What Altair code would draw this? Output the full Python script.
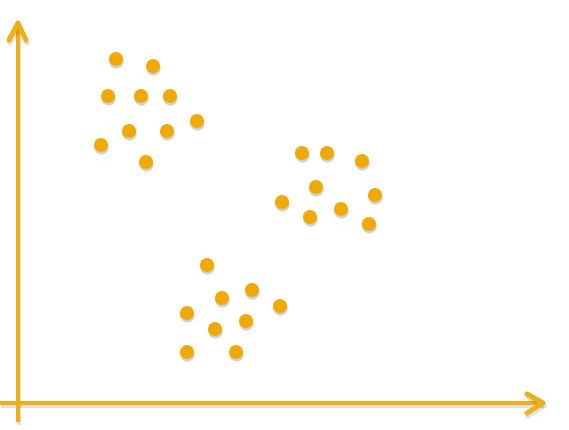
import altair as alt
import pandas as pd

# Point positions (x rightwards from vertical axis, y upwards from horizontal axis)
xs = [98, 135, 90, 123, 152, 179, 111, 149, 83, 128,
      284, 309, 344, 298, 357, 264, 323, 292, 351,
      189, 234, 204, 262, 169, 228, 197, 169, 218]
ys = [344, 337, 307, 307, 307, 282, 272, 272, 258, 241,
      250, 250, 242, 216, 208, 201, 194, 186, 179,
      138, 113, 105, 97, 90, 82, 74, 51, 51]

# Axis lines
axis_id = ["v", "v", "h", "h"]
axis_x = [0, 0, -18, 525]
axis_y = [-19, 380, 0, 0]

# Arrow heads (open chevrons)
head_id = ["up", "up", "up", "right", "right", "right"]
head_x = [-9, 0, 8, 509, 525, 509]
head_y = [363, 380, 363, 9, 0, -10]
head_o = [0, 1, 2, 0, 1, 2]

pts = pd.DataFrame({"x": xs, "y": ys})
axes = pd.DataFrame({"id": axis_id, "x": axis_x, "y": axis_y})
heads = pd.DataFrame({"id": head_id, "x": head_x, "y": head_y, "o": head_o})

xsc = alt.Scale(domain=[-18, 551])
ysc = alt.Scale(domain=[-27, 403])
X = alt.X("x:Q", scale=xsc, axis=None)
Y = alt.Y("y:Q", scale=ysc, axis=None)

line_col = "#EEAF18"
dot_col = "#F0A900"

axis_shadow = alt.Chart(axes).mark_line(
    color="#000000", opacity=0.12, strokeWidth=4, yOffset=3, xOffset=1
).encode(x=X, y=Y, detail="id:N")
axis_lines = alt.Chart(axes).mark_line(
    color=line_col, strokeWidth=4
).encode(x=X, y=Y, detail="id:N")
head_shadow = alt.Chart(heads).mark_line(
    color="#000000", opacity=0.12, strokeWidth=5, strokeCap="round",
    strokeJoin="round", yOffset=3, xOffset=1
).encode(x=X, y=Y, detail="id:N", order="o:Q")
head_lines = alt.Chart(heads).mark_line(
    color=line_col, strokeWidth=5, strokeCap="round", strokeJoin="round"
).encode(x=X, y=Y, detail="id:N", order="o:Q")

dot_shadow = alt.Chart(pts).mark_circle(
    color="#000000", opacity=0.18, size=210, yOffset=2.5, xOffset=0.5
).encode(x=X, y=Y)
dots = alt.Chart(pts).mark_circle(
    color=dot_col, opacity=1, size=200
).encode(x=X, y=Y)

chart = alt.layer(
    axis_shadow, axis_lines, head_shadow, head_lines, dot_shadow, dots
).properties(
    width=569, height=430,
    autosize=alt.AutoSizeParams(type="none"),
    padding=0,
).configure_view(stroke=None)

chart.save("out.html", embed_options={"renderer": "svg", "actions": False})
